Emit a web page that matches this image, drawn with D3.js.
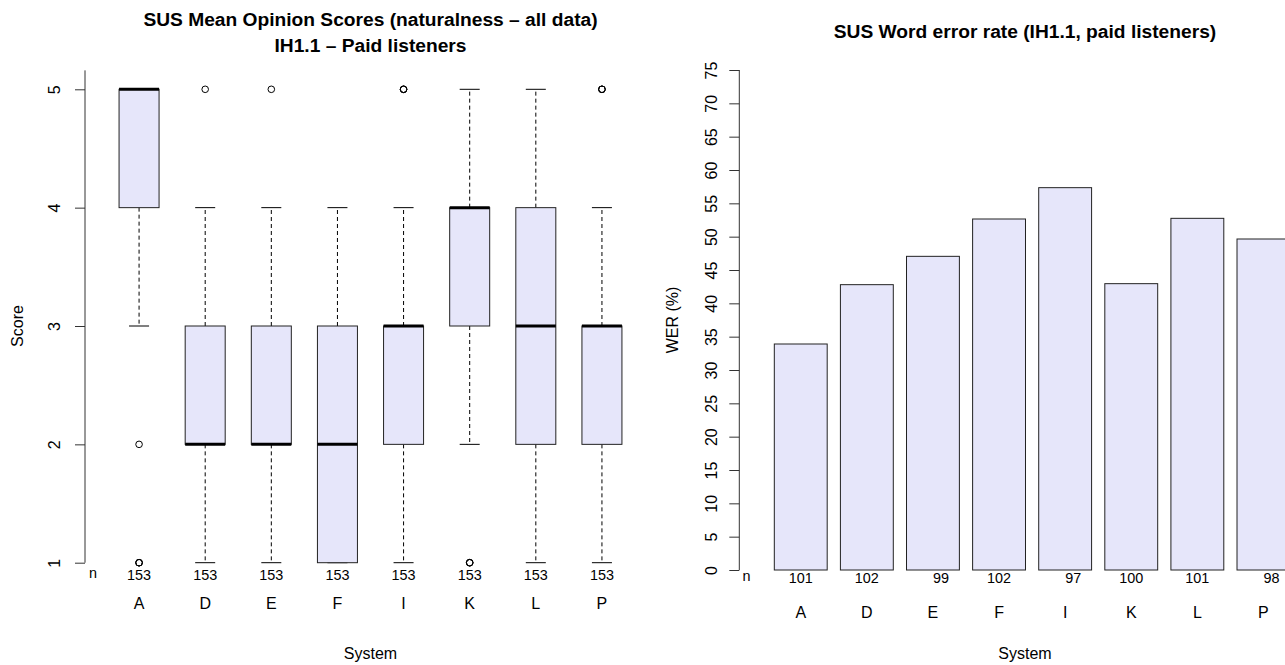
<!DOCTYPE html>
<html>
<head>
<meta charset="utf-8">
<script src="https://cdn.jsdelivr.net/npm/d3@7"></script>
<style>
  html, body { margin: 0; padding: 0; background: #fff; }
  svg { display: block; font-family: "Liberation Sans", Arial, sans-serif; }
</style>
</head>
<body>
<svg id="chart" width="1285" height="665"></svg>
<script>
// ---- data ----
const systems = ["A", "D", "E", "F", "I", "K", "L", "P"];

// MOS box statistics per system (score 1..5)
const whiskerLow  = [3, 1, 1, 1, 1, 2, 1, 1];
const quart1      = [4, 2, 2, 1, 2, 3, 2, 2];
const medians     = [5, 2, 2, 2, 3, 4, 3, 3];
const quart3      = [5, 3, 3, 3, 3, 4, 4, 3];
const whiskerHigh = [5, 4, 4, 4, 4, 5, 5, 4];
// outlying scores and how many listeners gave each one
const outlierScores = [[2, 1], [5], [5], [], [5], [1], [], [5]];
const outlierCounts = [[1, 3], [1], [1], [], [3], [3], [], [3]];
const mosN = [153, 153, 153, 153, 153, 153, 153, 153];

// word error rate (%) per system
const werValues = [33.9, 42.8, 47.05, 52.65, 57.35, 42.95, 52.75, 49.65];
const werN = [101, 102, 99, 102, 97, 100, 101, 98];

const mosTicks = [1, 2, 3, 4, 5];
const werTicks = d3.range(0, 80, 5);

// ---- drawing ----
const svg = d3.select("#chart");
const FS = 16;      // axis and label text
const FS_N = 14.4;  // sample-size row
const FS_T = 19.2;  // titles
const FILL = "#e6e6fa";
const INK = "#000";

function yAxis(g, scale, ticks, x, labelOffset) {
  const ax = d3.axisLeft(scale).tickValues(ticks).tickFormat(d3.format("d"))
    .tickSize(10).tickSizeOuter(0).tickPadding(0);
  const a = g.append("g").attr("transform", `translate(${x},0)`).call(ax);
  a.select(".domain").remove();
  a.selectAll(".tick line").attr("stroke", "#333");
  a.selectAll(".tick text")
    .attr("x", 0).attr("dy", null)
    .attr("font-size", FS).attr("fill", INK)
    .attr("text-anchor", "middle")
    .attr("dominant-baseline", "central")
    .attr("transform", `translate(${-labelOffset},0) rotate(-90)`);
  return a;
}

// ===== left: MOS boxplot =====
const L = svg.append("g");
const xL = d3.scaleBand().domain(systems).range([106, 635]).padding(0);
const yL = d3.scaleLinear().domain([1, 5]).range([562.7, 89.3]);
const boxW = xL.bandwidth() * 0.605;
const capW = boxW / 2;

L.append("line")
  .attr("x1", 85).attr("x2", 85)
  .attr("y1", yL(5.16)).attr("y2", yL(1))
  .attr("stroke", "#333");
yAxis(L, yL, mosTicks, 85, 31);

const boxes = L.selectAll("g.box").data(systems).join("g").attr("class", "box")
  .attr("transform", d => `translate(${xL(d) + xL.bandwidth() / 2},0)`);

// whiskers
boxes.append("line")
  .attr("y1", (d, i) => yL(quart3[i])).attr("y2", (d, i) => yL(whiskerHigh[i]))
  .attr("stroke", INK).attr("stroke-dasharray", "4,3");
boxes.append("line")
  .attr("y1", (d, i) => yL(quart1[i])).attr("y2", (d, i) => yL(whiskerLow[i]))
  .attr("stroke", INK).attr("stroke-dasharray", "4,3");
// caps
boxes.append("line")
  .attr("x1", -capW / 2).attr("x2", capW / 2)
  .attr("y1", (d, i) => yL(whiskerHigh[i])).attr("y2", (d, i) => yL(whiskerHigh[i]))
  .attr("stroke", INK);
boxes.append("line")
  .attr("x1", -capW / 2).attr("x2", capW / 2)
  .attr("y1", (d, i) => yL(whiskerLow[i])).attr("y2", (d, i) => yL(whiskerLow[i]))
  .attr("stroke", INK);
// box
boxes.append("rect")
  .attr("x", -boxW / 2).attr("width", boxW)
  .attr("y", (d, i) => yL(quart3[i]))
  .attr("height", (d, i) => yL(quart1[i]) - yL(quart3[i]))
  .attr("fill", FILL).attr("stroke", "#222");
// median
boxes.append("line")
  .attr("x1", -boxW / 2).attr("x2", boxW / 2)
  .attr("y1", (d, i) => yL(medians[i])).attr("y2", (d, i) => yL(medians[i]))
  .attr("stroke", INK).attr("stroke-width", 3);
// outliers (repeated values overplotted)
boxes.each(function (d, i) {
  const g = d3.select(this);
  outlierScores[i].forEach((s, k) => {
    for (let r = 0; r < outlierCounts[i][k]; r++) {
      g.append("circle").attr("cx", 0).attr("cy", yL(s)).attr("r", 3.3)
        .attr("fill", "none").attr("stroke", INK).attr("stroke-width", 1);
    }
  });
});
// counts
boxes.append("text")
  .attr("y", 575).attr("dominant-baseline", "central")
  .attr("text-anchor", "middle").attr("font-size", FS_N)
  .text((d, i) => mosN[i]);
boxes.append("text")
  .attr("y", 603).attr("dominant-baseline", "central")
  .attr("text-anchor", "middle").attr("font-size", FS)
  .text(d => d);
L.append("text").attr("x", 93).attr("y", 573).attr("dominant-baseline", "central")
  .attr("text-anchor", "middle").attr("font-size", FS_N).text("n");

L.append("text").attr("x", 370.5).attr("y", 19).attr("dominant-baseline", "central")
  .attr("text-anchor", "middle").attr("font-size", FS_T).attr("font-weight", "bold")
  .text("SUS Mean Opinion Scores (naturalness – all data)");
L.append("text").attr("x", 370.5).attr("y", 45).attr("dominant-baseline", "central")
  .attr("text-anchor", "middle").attr("font-size", FS_T).attr("font-weight", "bold")
  .text("IH1.1 – Paid listeners");
L.append("text").attr("x", 370.5).attr("y", 653).attr("dominant-baseline", "central")
  .attr("text-anchor", "middle").attr("font-size", FS).text("System");
L.append("text").attr("transform", "translate(17,326) rotate(-90)")
  .attr("dominant-baseline", "central")
  .attr("text-anchor", "middle").attr("font-size", FS).text("Score");

// ===== right: WER bar chart =====
const R = svg.append("g");
const xR = d3.scaleBand().domain(systems).range([767.7, 1296.5])
  .paddingInner(0.2).paddingOuter(0.1);
const yR = d3.scaleLinear().domain([0, 75]).range([570, 70]);

R.append("line")
  .attr("x1", 739.3).attr("x2", 739.3)
  .attr("y1", yR(75)).attr("y2", yR(0))
  .attr("stroke", "#333");
yAxis(R, yR, werTicks, 739.3, 28);

R.selectAll("rect.bar").data(systems).join("rect").attr("class", "bar")
  .attr("x", d => xR(d)).attr("width", xR.bandwidth())
  .attr("y", (d, i) => yR(werValues[i]))
  .attr("height", (d, i) => yR(0) - yR(werValues[i]))
  .attr("fill", FILL).attr("stroke", "#222");

const maxDigits = d3.max(werN, v => String(v).length);
R.selectAll("text.n").data(systems).join("text").attr("class", "n")
  .attr("x", d => xR(d) + xR.bandwidth() / 2)
  .attr("dx", (d, i) => `${(maxDigits - String(werN[i]).length) * 0.556}em`)
  .attr("y", 577.5).attr("dominant-baseline", "central")
  .attr("text-anchor", "middle").attr("font-size", FS_N)
  .text((d, i) => werN[i]);
R.selectAll("text.cat").data(systems).join("text").attr("class", "cat")
  .attr("x", d => xR(d) + xR.bandwidth() / 2)
  .attr("y", 612.5).attr("dominant-baseline", "central")
  .attr("text-anchor", "middle").attr("font-size", FS)
  .text(d => d);
R.append("text").attr("x", 746.5).attr("y", 576).attr("dominant-baseline", "central")
  .attr("text-anchor", "middle").attr("font-size", FS_N).text("n");

R.append("text").attr("x", 1025).attr("y", 31).attr("dominant-baseline", "central")
  .attr("text-anchor", "middle").attr("font-size", FS_T).attr("font-weight", "bold")
  .text("SUS Word error rate (IH1.1, paid listeners)");
R.append("text").attr("x", 1025).attr("y", 653).attr("dominant-baseline", "central")
  .attr("text-anchor", "middle").attr("font-size", FS).text("System");
R.append("text").attr("transform", "translate(672,320) rotate(-90)")
  .attr("dominant-baseline", "central")
  .attr("text-anchor", "middle").attr("font-size", FS).text("WER (%)");
</script>
</body>
</html>
